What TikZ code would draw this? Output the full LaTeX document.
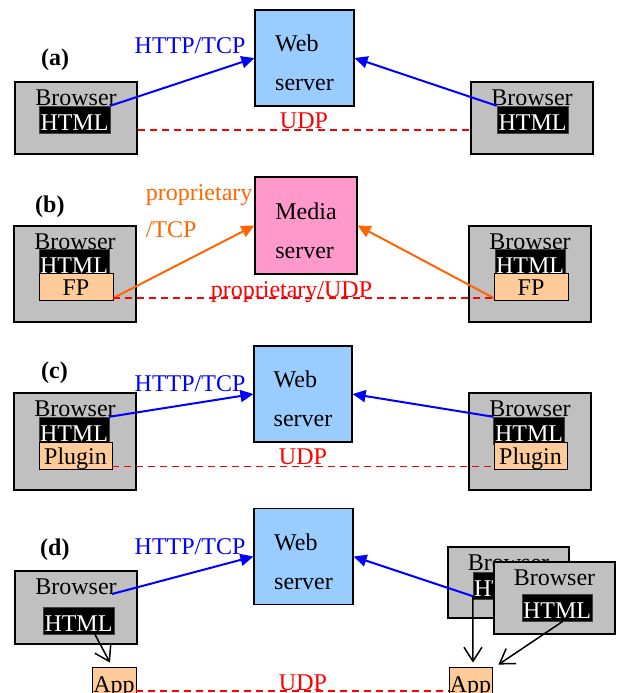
\documentclass[tikz,border=0pt]{standalone}
\usepackage{fontspec}
\setmainfont{Liberation Serif}
\usepackage{xcolor}
\usepackage{tikz}
\usetikzlibrary{arrows.meta}
\definecolor{boxgray}{RGB}{192,192,192}
\definecolor{webblue}{RGB}{153,204,255}
\definecolor{mediapink}{RGB}{255,153,204}
\definecolor{plugorange}{RGB}{255,204,153}
\definecolor{lineorange}{RGB}{255,102,0}

\begin{document}
\begin{tikzpicture}[x=1pt, y=-1pt, font=\fontsize{24}{28}\selectfont,
    browser/.style = {rectangle, draw, line width=1.5pt, fill=boxgray, minimum width=122pt, inner sep=0pt, text height=23pt, text depth=#1},
    browser/.default = 49pt,
    html/.style = {rectangle, fill=black, draw=black!75, text=white, minimum width=71pt, inner sep=0pt, text height=24pt, text depth=3pt},
    plug/.style = {rectangle, draw, line width=0.6pt, fill=plugorange, minimum width=74pt, inner sep=0pt, text height=22pt, text depth=5pt},
    app/.style = {rectangle, draw, line width=0.8pt, fill=plugorange, minimum width=44pt, inner sep=0pt, text height=25pt, text depth=8pt},
    server/.style = {rectangle, draw, line width=1.2pt, fill=#1, minimum width=99pt, minimum height=96pt, inner sep=0pt, align=left, font=\fontsize{24}{39}\selectfont, text height=65pt, text depth=0pt},
    tag/.style = {inner sep=0pt, font=\fontsize{24}{28}\selectfont\bfseries},
    lbl/.style = {inner sep=0pt},
    web/.style = {draw=blue, line width=2pt, -{Triangle[length=13pt,width=12pt]}},
    prop/.style = {draw=lineorange, line width=2pt, -{Triangle[length=13pt,width=12pt]}},
    udp/.style = {draw=red, line width=1.6pt, dash pattern=on 7pt off 5pt},
    local/.style = {draw, line width=1.5pt, -{Straight Barb[length=14pt,width=18pt]}}]
    \useasboundingbox (0,0) rectangle (616,693);

    % (a)
    \node[tag, anchor=base west] (a0) at (41,66) {(a)};
    \node[browser] (a1) at (76,118) {Browser};
    \node[html] (a3) at (74.5,119.5) {HTML};
    \node[server=webblue] (a2) at (304.5,58) {Web\\server};
    \node[browser] (a4) at (532,118) {Browser};
    \node[html] (a5) at (532.5,119.5) {HTML};
    \draw[web] (a3.north east) -- node[lbl, at end, anchor=base east, xshift=-8pt, yshift=5pt, text=blue] (a6) {HTTP/TCP} (a2.west);
    \draw[web] (a5.north west) -- (a2.east);
    \draw[udp] ([yshift=-12pt]a1.east) -- node[lbl, anchor=base, yshift=2pt, text=red] (a7) {UDP} ([yshift=-12pt]a4.west);

    % (b)
    \node[tag, anchor=base west] (b0) at (35,212) {(b)};
    \node[browser=73pt] (b1) at (75,274) {Browser};
    \node[html, minimum width=70pt] (b3) at (74,262.5) {HTML};
    \node[plug] (b4) at (76,286.5) {FP};
    \node[server=mediapink, minimum width=102pt, minimum height=97pt] (b2) at (306,225.5) {Media\\server};
    \node[browser=73pt] (b5) at (530,274) {Browser};
    \node[html, minimum width=70pt] (b6) at (530,262.5) {HTML};
    \node[plug] (b7) at (531,286.5) {FP};
    \draw[prop] ([yshift=-11.5pt]b4.east) -- node[lbl, at end, anchor=north east, align=left, xshift=-1pt, yshift=42pt, text=lineorange, font=\fontsize{24}{37}\selectfont] (b8) {proprietary\\/TCP} (b2.west);
    \draw[prop] ([yshift=-11.5pt]b7.west) -- (b2.east);
    \draw[udp] ([yshift=-11.5pt]b4.east) -- node[lbl, anchor=base, xshift=-12pt, yshift=1pt, text=red] (b9) {proprietary/UDP} ([yshift=-11.5pt]b7.west);

    % (c)
    \node[tag, anchor=base west] (c0) at (41,378) {(c)};
    \node[browser=74pt] (c1) at (75,441.5) {Browser};
    \node[html, minimum width=70pt] (c3) at (74,430.5) {HTML};
    \node[plug, minimum width=73pt] (c4) at (75.5,455.5) {Plugin};
    \node[server=webblue, minimum width=98pt] (c2) at (303,394) {Web\\server};
    \node[browser=74pt] (c5) at (530,441.5) {Browser};
    \node[html] (c6) at (529,430.5) {HTML};
    \node[plug, minimum width=73pt] (c7) at (530.5,455.5) {Plugin};
    \draw[web] (c3.north east) -- node[lbl, at end, anchor=base east, xshift=-7pt, yshift=3pt, text=blue] (c8) {HTTP/TCP} (c2.west);
    \draw[web] (c6.north west) -- (c2.east);
    \draw[udp] ([yshift=-11pt]c4.east) -- node[lbl, anchor=base, yshift=2pt, text=red] (c9) {UDP} ([yshift=-11pt]c7.west);

    % (d) two browsers share one app
    \node[tag, anchor=base west] (d0) at (40,555) {(d)};
    \node[browser=50pt] (d1) at (76,607.5) {Browser};
    \node[html] (d3) at (78.5,621) {HTML};
    \node[app] (d4) at (114,683.5) {App};
    \node[server=webblue] (d2) at (303.5,556.5) {Web\\server};
    \node[browser=48pt, minimum width=121pt] (d5) at (508.5,582.5) {Browser};
    \node[html, minimum width=70pt] (d6) at (508,585.5) {HTML};
    \node[browser=49pt, minimum width=121pt] (d7) at (554.5,598) {Browser}; % front window
    \node[html, minimum width=70pt] (d8) at (557,607.5) {HTML};
    \node[app, minimum width=43pt] (d9) at (470.5,683.5) {App};
    \draw[web] ([xshift=36pt]d1.base) -- node[lbl, at end, anchor=base east, xshift=-7pt, yshift=2pt, text=blue] (d10) {HTTP/TCP} (d2.west);
    \draw[web] ([yshift=3pt]d6.south west) -- (d2.east);
    \draw[local] ([xshift=15pt,yshift=3pt]d3.south) -- ([xshift=-4pt,yshift=4pt]d4.north);
    \draw[local] ([yshift=3pt]d6.south west) -- ([xshift=2.5pt,yshift=4pt]d9.north);
    \draw[local] ([xshift=6pt]d8.south) -- ([xshift=6pt,yshift=2pt]d9.north east);
    \draw[udp] ([yshift=-7.5pt]d4.east) -- node[lbl, anchor=base, xshift=10.5pt, yshift=1pt, text=red] (d11) {UDP} ([yshift=-7.5pt]d9.west);
\end{tikzpicture}
\end{document}
